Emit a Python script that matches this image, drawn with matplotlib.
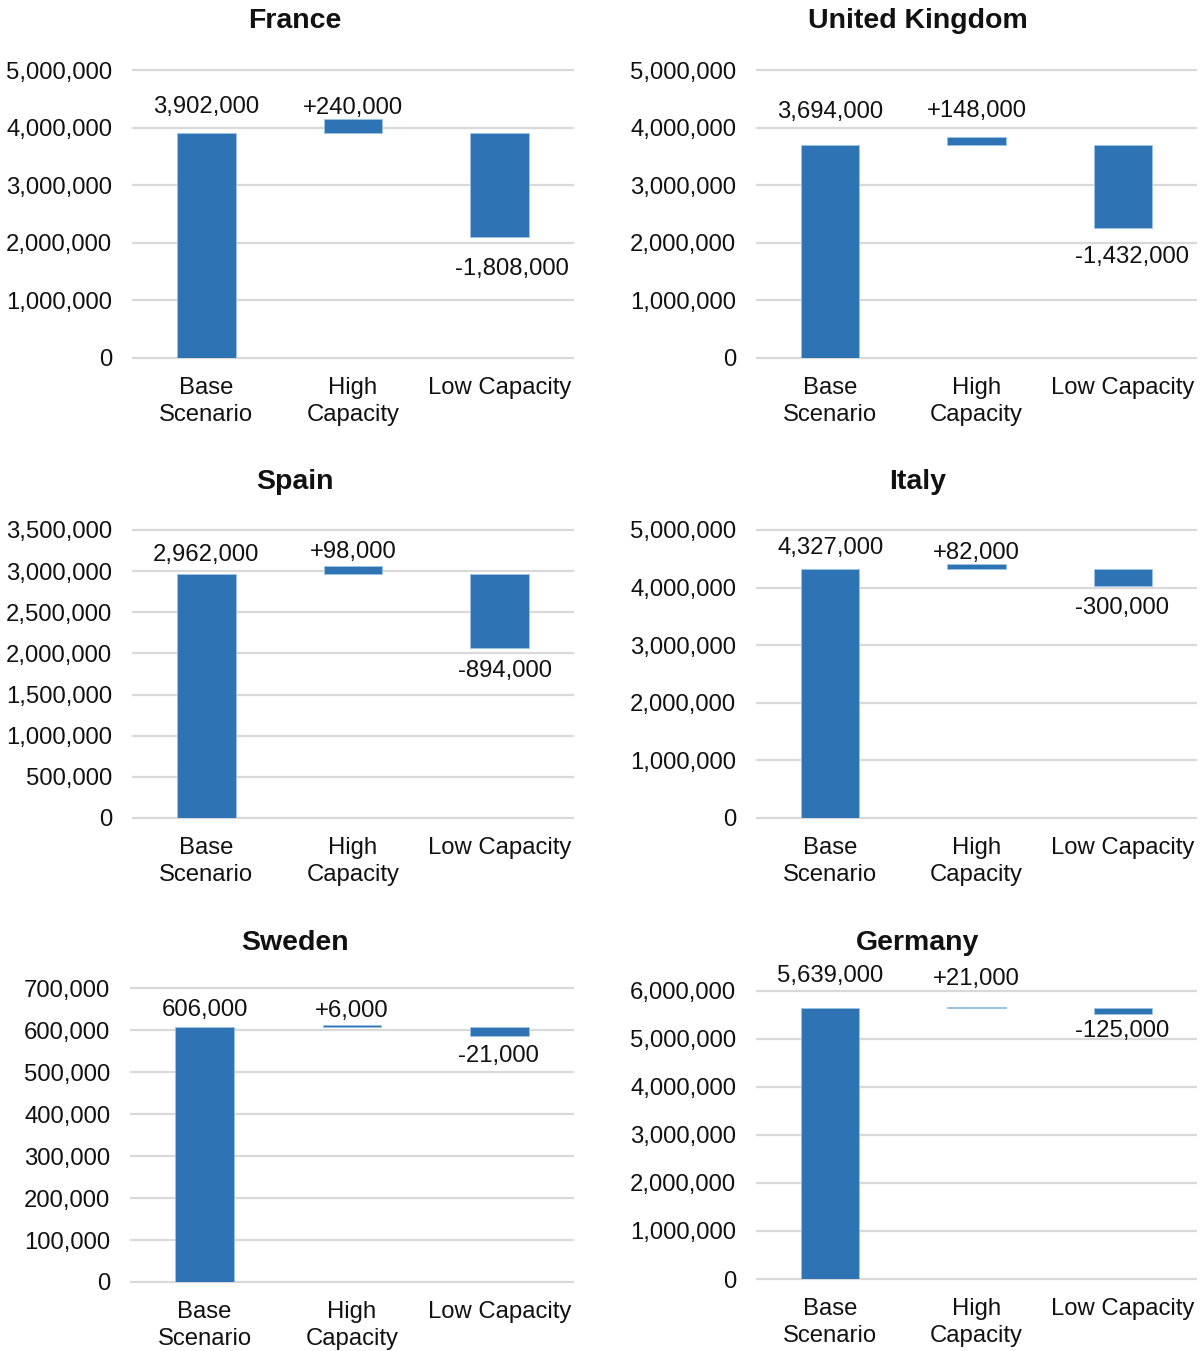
import matplotlib
matplotlib.use("Agg")
import matplotlib.pyplot as plt
import numpy as np

# ---------------- data ----------------
countries = ["France", "United Kingdom", "Spain", "Italy", "Sweden", "Germany"]
base_values = [3902000, 3694000, 2962000, 4327000, 606000, 5639000]
high_deltas = [240000, 148000, 98000, 82000, 6000, 21000]
low_deltas = [-1808000, -1432000, -894000, -300000, -21000, -125000]
categories = ["Base\nScenario", "High\nCapacity", "Low Capacity"]
y_max = [5000000, 5000000, 3500000, 5000000, 700000, 6000000]
y_step = [1000000, 1000000, 500000, 1000000, 100000, 1000000]

# ---------------- layout / style ----------------
plt.rcParams['font.family'] = ['Liberation Sans', 'DejaVu Sans']
W, H = 1201, 1351
fig = plt.figure(figsize=(W / 100, H / 100), dpi=100)

BAR = '#2E74B5'
EDGE = '#9DC3E6'
GRID = '#D9D9D9'
TXT = '#111111'
FS = 17.2

# axes boxes in pixels: left, top, right, bottom
boxes = [(133, 70, 573, 358), (757, 70, 1196, 358),
         (133, 530, 573, 818), (757, 530, 1196, 818),
         (131, 988, 573, 1282), (757, 991, 1196, 1279)]
titles_xy = [(295, 21), (918, 21), (295, 482), (918, 482), (295, 943), (918, 943)]
# label offsets in pixels
base_dy = [26, 33, 19, 21, 17.5, 32]
high_dy = [11, 26, 14, 11, 14, 28]
low_dy = [32, 29, 23, 22, 20, 17]
low_dx = [12, 9, 5, -1, -1, -1]

px = 0.72  # pixels -> points at 100 dpi

for i, name in enumerate(countries):
    l, t, r, b = boxes[i]
    ax = fig.add_axes([l / W, 1 - b / H, (r - l) / W, (b - t) / H])
    base = base_values[i]
    hd = high_deltas[i]
    ld = low_deltas[i]
    x = np.arange(3)
    bottoms = [0, base, base + ld]
    heights = [base, hd, -ld]
    ax.bar(x, heights, bottom=bottoms, width=0.4, color=BAR,
           edgecolor=EDGE, linewidth=0.6, zorder=3)

    ax.set_xlim(-0.5, 2.5)
    ax.set_ylim(0, y_max[i])
    ticks = np.arange(0, y_max[i] + y_step[i] / 2, y_step[i])
    ax.set_yticks(ticks)
    ax.set_yticklabels([f"{int(v):,}" for v in ticks])
    ax.set_xticks(x)
    ax.set_xticklabels(categories, linespacing=1.33)
    ax.tick_params(axis='y', length=0, pad=15, labelsize=FS, labelcolor=TXT)
    ax.tick_params(axis='x', length=0, pad=13.5, labelsize=FS, labelcolor=TXT)
    for s in ax.spines.values():
        s.set_visible(False)
    ax.yaxis.grid(True, color=GRID, linewidth=1.6, zorder=0)
    ax.set_axisbelow(True)
    for gl in ax.get_ygridlines():
        gl.set_clip_on(False)

    # value labels
    ax.annotate(f"{base:,}", xy=(0, base), xytext=(0, base_dy[i] * px),
                textcoords='offset points', ha='center', va='center',
                fontsize=FS, color=TXT, annotation_clip=False)
    ax.annotate(f"+{hd:,}", xy=(1, base + hd), xytext=(0, high_dy[i] * px),
                textcoords='offset points', ha='center', va='center',
                fontsize=FS, color=TXT, annotation_clip=False)
    ax.annotate(f"-{abs(ld):,}", xy=(2, base + ld),
                xytext=(low_dx[i] * px, -low_dy[i] * px),
                textcoords='offset points', ha='center', va='center',
                fontsize=FS, color=TXT, annotation_clip=False)

    tx, ty = titles_xy[i]
    fig.text(tx / W, 1 - ty / H, name, ha='center', va='center',
             fontsize=20.5, fontweight='bold', color=TXT)

fig.savefig("out.png", dpi=100, facecolor='white')
